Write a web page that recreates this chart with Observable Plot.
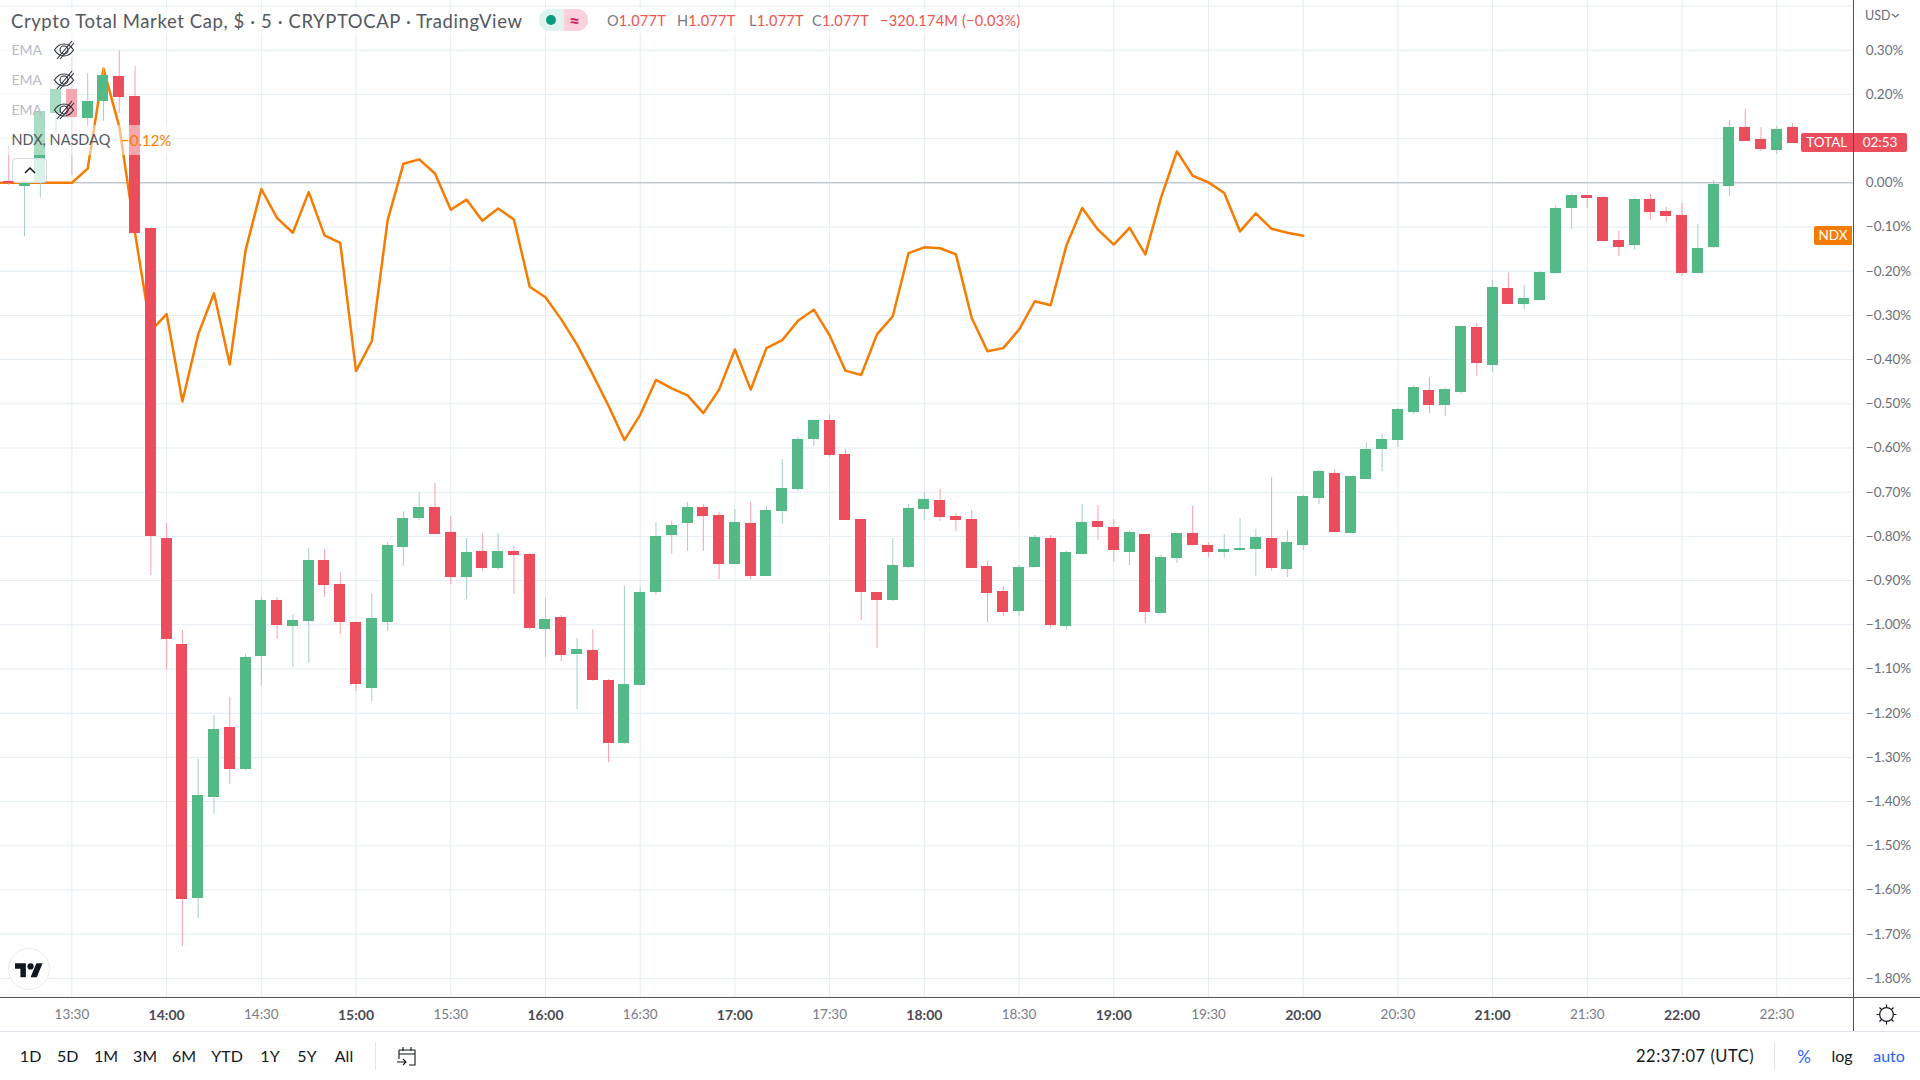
<!DOCTYPE html>
<html><head><meta charset="utf-8">
<script src="https://cdn.jsdelivr.net/npm/d3@7"></script>
<script src="https://cdn.jsdelivr.net/npm/@observablehq/plot@0.6"></script>
<style>
html,body{margin:0;padding:0;background:#fff;overflow:hidden}
#page{position:relative;width:1920px;height:1080px;font-family:Lato,"Noto Sans",sans-serif;overflow:hidden;background:#fff}
#chart{position:absolute;left:0;top:0}
#chart svg{display:block}
.a{position:absolute;white-space:nowrap}
.t{line-height:1;transform:translateY(-50%)}
.tb{font-size:16px;color:#131722;transform:translate(-50%,-50%);line-height:1}
</style></head><body>
<div id="page"><div id="chart"></div><div id="chrome"></div></div>
<script>
const opens = [
 .002,-.008,-.002,.157,.210,.146,.184,.240,.195,-.103,
 -.804,-1.044,-1.620,-1.391,-1.232,-1.327,-1.072,-.945,-1.003,-.993,-.855,-.909,
 -.995,-1.144,-.995,-.825,-.760,-.735,-.791,-.893,-.834,-.873,-.834,-.841,
 -1.011,-.983,-1.067,-1.058,-1.126,-1.269,-1.137,-.927,-.798,-.771,-.735,-.753,
 -.864,-.771,-.891,-.744,-.694,-.581,-.538,-.615,-.762,-.927,-.945,-.870,
 -.739,-.719,-.755,-.762,-.868,-.925,-.970,-.870,-.805,-1.004,-.841,-.766,
 -.780,-.836,-.796,-.974,-.850,-.793,-.821,-.836,-.832,-.830,-.805,-.875,
 -.821,-.714,-.658,-.793,-.671,-.603,-.583,-.520,-.470,-.504,-.474,-.327,
 -.413,-.239,-.275,-.266,-.205,-.058,-.029,-.033,-.131,-.142,-.038,-.065,
 -.074,-.205,-.146,-.008,.125,.098,.073,.125];
const closes = [
 -.002,-.002,.161,.210,.148,.184,.243,.193,-.114,-.800,
 -1.033,-1.622,-1.386,-1.237,-1.327,-1.074,-.945,-1.001,-.990,-.855,-.911,-.995,
 -1.135,-.986,-.821,-.760,-.735,-.796,-.893,-.836,-.873,-.834,-.843,-1.008,
 -.988,-1.069,-1.056,-1.126,-1.269,-1.135,-.927,-.800,-.775,-.735,-.755,-.864,
 -.769,-.891,-.741,-.692,-.581,-.538,-.617,-.764,-.927,-.945,-.866,-.737,
 -.717,-.757,-.764,-.873,-.929,-.972,-.870,-.802,-1.002,-.836,-.769,-.780,
 -.832,-.791,-.972,-.848,-.793,-.821,-.836,-.830,-.827,-.802,-.873,-.814,
 -.710,-.653,-.791,-.665,-.603,-.581,-.513,-.463,-.504,-.468,-.325,-.409,
 -.237,-.275,-.262,-.203,-.058,-.029,-.036,-.133,-.146,-.038,-.067,-.076,
 -.205,-.149,-.004,.125,.093,.075,.121,.089];
const highs = [
 .082,-.002,.161,.220,.283,.247,.259,.299,.263,-.102,
 -.771,-1.013,-1.304,-1.205,-1.164,-1.067,-.938,-.938,-.977,-.827,-.830,-.882,
 -.993,-.931,-.814,-.744,-.701,-.680,-.755,-.805,-.793,-.793,-.823,-.839,
 -.940,-.979,-1.031,-1.011,-1.124,-.913,-.916,-.769,-.766,-.723,-.728,-.746,
 -.739,-.723,-.732,-.626,-.576,-.538,-.524,-.603,-.762,-.927,-.805,-.728,
 -.701,-.694,-.748,-.741,-.857,-.913,-.866,-.798,-.798,-.834,-.728,-.730,
 -.762,-.787,-.796,-.843,-.793,-.732,-.814,-.796,-.760,-.784,-.667,-.787,
 -.707,-.651,-.649,-.665,-.588,-.569,-.511,-.459,-.441,-.465,-.325,-.318,
 -.221,-.205,-.232,-.201,-.051,-.026,-.029,-.031,-.110,-.036,-.026,-.056,
 -.047,-.094,.005,.141,.166,.125,.127,.134];
const lows = [
 -.006,-.123,-.035,.112,.017,.125,.139,.157,-.114,-.888,
 -1.102,-1.727,-1.664,-1.428,-1.361,-1.330,-1.138,-1.033,-1.097,-1.087,-.938,-1.022,
 -1.151,-1.174,-1.015,-.868,-.764,-.796,-.909,-.943,-.879,-.877,-.931,-1.013,
 -1.074,-1.083,-1.192,-1.128,-1.312,-1.271,-1.137,-.934,-.841,-.834,-.834,-.898,
 -.864,-.898,-.891,-.773,-.698,-.597,-.621,-.764,-.990,-1.054,-.947,-.873,
 -.764,-.766,-.789,-.873,-.995,-.981,-.981,-.870,-1.008,-1.011,-.841,-.809,
 -.859,-.866,-.997,-.974,-.861,-.821,-.848,-.850,-.834,-.891,-.879,-.893,
 -.832,-.728,-.791,-.793,-.671,-.653,-.599,-.524,-.522,-.529,-.479,-.438,
 -.429,-.275,-.287,-.266,-.205,-.106,-.058,-.133,-.167,-.153,-.085,-.090,
 -.212,-.205,-.149,-.031,.093,.071,.064,.089];
const ndx = [
 0,0,0,0,0,0,.032,.258,.127,-.114,-.335,
 -.297,-.495,-.343,-.250,-.411,-.153,-.014,-.080,-.113,-.021,-.119,-.136,
 -.426,-.358,-.085,.043,.053,.021,-.061,-.038,-.086,-.058,-.083,-.235,
 -.259,-.309,-.366,-.434,-.505,-.582,-.525,-.446,-.465,-.481,-.521,-.468,
 -.377,-.468,-.374,-.356,-.312,-.287,-.345,-.425,-.435,-.343,-.302,-.159,
 -.146,-.148,-.162,-.306,-.381,-.374,-.332,-.268,-.277,-.142,-.057,-.106,
 -.140,-.102,-.162,-.033,.071,.016,.001,-.023,-.110,-.069,-.104,-.113,-.120];
const yTicks = [.4,.3,.2,.1,0,-.1,-.2,-.3,-.4,-.5,-.6,-.7,-.8,-.9,-1,-1.1,-1.2,-1.3,-1.4,-1.5,-1.6,-1.7,-1.8];
const yLabels = [.3,.2,0,-.1,-.2,-.3,-.4,-.5,-.6,-.7,-.8,-.9,-1,-1.1,-1.2,-1.3,-1.4,-1.5,-1.6,-1.7,-1.8];
const hourLabels = ["14:00","15:00","16:00","17:00","18:00","19:00","20:00","21:00","22:00"];
const halfLabels = ["13:30","14:30","15:30","16:30","17:30","18:30","19:30","20:30","21:30","22:30"];

const at = s => { const [h,m] = s.split(":").map(Number); return new Date(Date.UTC(2021,5,1,h,m)); };
const MIN = 60000, first = +at("13:10"), ndxFirst = +at("13:05");
const bars = opens.map((o,i) => ({t:new Date(first+i*5*MIN), open:o, close:closes[i], high:highs[i], low:lows[i]}));
const ndxRows = ndx.map((v,i) => ({t:new Date(ndxFirst+i*5*MIN), v}));
const up = bars.filter(d => d.close >= d.open), down = bars.filter(d => d.close < d.open);
const hourT = hourLabels.map(at), halfT = halfLabels.map(at), allT = [...hourT,...halfT];
const fmtY = v => (v<0?"\u2212":"") + Math.abs(v).toFixed(2) + "%";
const fmtX = d => d3.utcFormat("%H:%M")(d);
const GREEN="#53b987", RED="#eb4d5c", GW="#a3cfca", RW="#f8a1ad", GRID="#e3ecf2";
const FONT='Lato,"Noto Sans",sans-serif';
const body = (data,fill) => Plot.rect(data,{x1:d=>new Date(+d.t-2.5*MIN),x2:d=>new Date(+d.t+2.5*MIN),y1:"open",y2:"close",insetLeft:2.4,insetRight:2.4,fill,shapeRendering:"crispEdges"});
const plot = Plot.plot({
  width:1920,height:1032,marginLeft:0,marginRight:66.7,marginTop:0,marginBottom:34.7,
  style:{background:"#fff",fontFamily:FONT},
  x:{type:"utc",domain:[new Date(Date.UTC(2021,5,1,13,7,23)),new Date(Date.UTC(2021,5,1,22,54,24))]},
  y:{domain:[-1.8439,.41244]},
  marks:[
    Plot.gridY(yTicks,{stroke:GRID,strokeOpacity:1,strokeWidth:1}),
    Plot.gridX(allT,{stroke:GRID,strokeOpacity:1,strokeWidth:1}),
    Plot.ruleY([0],{stroke:"#b2b5be",strokeWidth:1}),
    Plot.line(ndxRows,{x:"t",y:"v",stroke:"#f57c00",strokeWidth:2.5,curve:"linear",clip:true}),
    Plot.ruleX(up,{x:"t",y1:"low",y2:"high",stroke:GW,strokeWidth:1}),
    Plot.ruleX(down,{x:"t",y1:"low",y2:"high",stroke:RW,strokeWidth:1}),
    body(up,GREEN), body(down,RED),
    Plot.axisY(yLabels,{anchor:"right",tickSize:0,tickPadding:12,textAnchor:"start",tickFormat:fmtY,fontSize:13.5,fill:"#6a6d78",label:null}),
    Plot.axisX(halfT,{anchor:"bottom",tickSize:0,tickPadding:12,tickFormat:fmtX,fontSize:13.5,fill:"#787b86",label:null}),
    Plot.axisX(hourT,{anchor:"bottom",tickSize:0,tickPadding:12,tickFormat:fmtX,fontSize:14,fontWeight:700,fill:"#4a4c55",label:null})
  ]
});
document.getElementById("chart").append(plot);

const eye = y => `<svg class="a" style="left:53px;top:${y-11}px" width="22" height="22" viewBox="0 0 22 22" fill="none" stroke="#2a2e39" stroke-width="1.1"><path d="M1.5 11C4 7 7 5 11 5s7 2 9.5 6C18 15 15 17 11 17S4 15 1.5 11z"/><circle cx="11" cy="11" r="4"/><path d="M4 20L19 2M7 20L21 4"/></svg>`;
const rowBg = (x,y,w,h,a=.5) => `<div class="a" style="left:${x}px;top:${y}px;width:${w}px;height:${h}px;background:rgba(255,255,255,${a})"></div>`;
const txt = (x,y,s,style="") => `<div class="a t" style="left:${x}px;top:${y}px;${style}">${s}</div>`;
const tb = (x,s,style="") => `<div class="a tb" style="left:${x}px;top:1056px;${style}">${s}</div>`;
const box = (x,y,w,h,c) => `<div class="a" style="left:${x}px;top:${y}px;width:${w}px;height:${h}px;background:${c}"></div>`;
const lab = (x,y,w,h,c,s,r) => `<div class="a" style="left:${x}px;top:${y}px;width:${w}px;height:${h}px;background:${c};color:#fff;font-size:13.5px;line-height:${h}px;text-align:center;border-radius:${r}">${s}</div>`;
const ohlc = "font-size:14.5px;color:#ef5350;letter-spacing:.25px";
const olab = s => `<span style="color:#787b86">${s}</span>`;
document.getElementById("chrome").innerHTML = [
  rowBg(0,8,1030,26), rowBg(0,35,78,90), rowBg(0,125,178,30),
  box(0,997,1920,1,"#50535e"), box(1853,0,1,1031,"#50535e"), box(0,1031,1920,1,"#e0e3eb"),
  txt(11,21,"Crypto Total Market Cap, $ \u00b7 5 \u00b7 CRYPTOCAP \u00b7 TradingView","font-size:18.5px;letter-spacing:.6px;color:#555760"),
  `<div class="a" style="left:539px;top:9px;width:25px;height:22px;background:#dff3ef;border-radius:11px 0 0 11px"></div>`,
  `<div class="a" style="left:564px;top:9px;width:24px;height:22px;background:#fbd0dd;border-radius:0 11px 11px 0"></div>`,
  `<div class="a" style="left:546px;top:15px;width:10px;height:10px;background:#089981;border-radius:50%"></div>`,
  txt(569,20,"\u2248","font-size:19px;font-weight:700;color:#d81b60"),
  txt(607,21,olab("O")+"1.077T",ohlc), txt(677,21,olab("H")+"1.077T",ohlc), txt(749,21,olab("L")+"1.077T",ohlc), txt(812,21,olab("C")+"1.077T",ohlc),
  txt(880,21,"\u2212320.174M (\u22120.03%)",ohlc),
  ...[50,80,110].map(y=>txt(11.5,y,"EMA","font-size:14px;color:#b8bbc5")+eye(y)),
  txt(11.5,140,"NDX, NASDAQ","font-size:14.5px;color:#555760"),
  txt(121,140,"\u22120.12%","font-size:15px;color:#f57c00"),
  `<div class="a" style="left:12px;top:158px;width:35px;height:25px;box-sizing:border-box;border:1px solid #d6d8e0;border-radius:4px;background:rgba(255,255,255,.8)"><svg style="position:absolute;left:11px;top:7px" width="12" height="8" viewBox="0 0 12 8" fill="none" stroke="#131722" stroke-width="1.5"><path d="M1 7l5-5 5 5"/></svg></div>`,
  `<div class="a" style="left:8px;top:948px;width:42px;height:42px;box-sizing:border-box;border:1px solid #ececec;border-radius:50%;background:#fff"></div>`,
  `<svg class="a" style="left:15px;top:961px" width="28" height="17" viewBox="0 0 36 20"><path fill="#131722" d="M14 20H7V9H0V2h14v18zM28 20h-8l7.5-18h8L28 20z"/><circle cx="20" cy="6" r="4" fill="#131722"/></svg>`,
  txt(1865,16,"USD","font-size:12.5px;color:#6a6d78"),
  `<svg class="a" style="left:1891px;top:13px" width="9" height="6" viewBox="0 0 9 6" fill="none" stroke="#6a6d78" stroke-width="1.2"><path d="M1 1l3.5 3L8 1"/></svg>`,
  lab(1801,133,51.5,19,RED,"TOTAL","2px 0 0 2px"),
  lab(1853.5,133,53,19,RED,"02:53","0 2px 2px 0"),
  lab(1814,226,38,19,"#f57c00","NDX","2px 0 0 2px"),
  `<svg class="a" style="left:1875px;top:1003px" width="23" height="23" viewBox="0 0 23 23" fill="none" stroke="#131722" stroke-width="1.2"><circle cx="11.5" cy="11.5" r="6.8"/><path d="M11.5 1.5v3M11.5 18.5v3M1.5 11.5h3M18.5 11.5h3M4.5 4.5l2 2M16.5 16.5l2 2M4.5 18.5l2-2M16.5 6.5l2-2"/></svg>`,
  tb(30.6,"1D"),tb(67.8,"5D"),tb(106,"1M"),tb(145,"3M"),tb(184,"6M"),tb(227,"YTD"),tb(270,"1Y"),tb(307,"5Y"),tb(344,"All"),
  box(375,1042,1,28,"#e0e3eb"),
  `<svg class="a" style="left:396px;top:1045px" width="22" height="22" viewBox="0 0 22 22" fill="none" stroke="#131722" stroke-width="1.1"><path d="M3 5h16v15h-6M3 5v9M3 9h16M7 2v4M15 2v4M1 17h9M7 14l3 3-3 3"/></svg>`,
  txt(1636,1056,"22:37:07 (UTC)","font-size:16.5px;letter-spacing:.5px;color:#131722"),
  box(1774,1042,1,28,"#e0e3eb"),
  tb(1804,"%","font-size:17px;color:#2962ff"),
  tb(1842,"log","font-size:16px"),
  tb(1889,"auto","font-size:16px;color:#2962ff")
].join("");
</script></body></html>
